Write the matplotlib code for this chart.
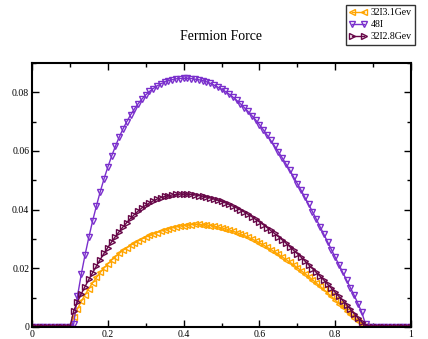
import matplotlib
matplotlib.use('Agg')
import matplotlib.pyplot as plt
from matplotlib.ticker import MultipleLocator, FuncFormatter
import numpy as np

plt.rcParams['font.family'] = ['Liberation Serif', 'DejaVu Serif']

# x grid of the force data
tau = np.round(np.arange(0, 1.0001, 0.01), 2)

labels = ['32I3.1Gev', '48I', '32I2.8Gev']
colors = ['#ffa500', '#7a2fcc', '#670748']
markers = ['<', 'v', '>']

f_32I_31 = [0.0]*11 + [
    0.0035, 0.0062, 0.0087, 0.0110, 0.0131, 0.0151, 0.0169, 0.0186, 0.0201, 0.0215,
    0.0228, 0.0240, 0.0251, 0.0261, 0.0270, 0.0278, 0.0286, 0.0293, 0.0300, 0.0306,
    0.0312, 0.0317, 0.0322, 0.0327, 0.0331, 0.0335, 0.0338, 0.0341, 0.0344, 0.0346,
    0.0348, 0.0349, 0.0350, 0.0350, 0.0349, 0.0348, 0.0346, 0.0344, 0.0341, 0.0338,
    0.0335, 0.0331, 0.0327, 0.0322, 0.0317, 0.0312, 0.0306, 0.0300, 0.0294, 0.0287,
    0.0280, 0.0272, 0.0264, 0.0256, 0.0248, 0.0239, 0.0230, 0.0221, 0.0212, 0.0202,
    0.0192, 0.0182, 0.0172, 0.0161, 0.0150, 0.0139, 0.0128, 0.0116, 0.0104, 0.0092,
    0.0080, 0.0068, 0.0056, 0.0044, 0.0032, 0.0021, 0.0011, 0.0003] + [0.0]*12

f_48I = [0.0]*11 + [
    0.0010, 0.0105, 0.0180, 0.0246, 0.0306, 0.0362, 0.0413, 0.0461, 0.0505, 0.0545,
    0.0582, 0.0616, 0.0647, 0.0675, 0.0700, 0.0723, 0.0743, 0.0761, 0.0777, 0.0791,
    0.0803, 0.0813, 0.0822, 0.0829, 0.0835, 0.0840, 0.0843, 0.0846, 0.0847, 0.0848,
    0.0848, 0.0847, 0.0845, 0.0843, 0.0840, 0.0836, 0.0831, 0.0825, 0.0818, 0.0811,
    0.0803, 0.0794, 0.0784, 0.0773, 0.0761, 0.0748, 0.0735, 0.0721, 0.0706, 0.0690,
    0.0673, 0.0655, 0.0636, 0.0617, 0.0597, 0.0577, 0.0556, 0.0535, 0.0512, 0.0489,
    0.0466, 0.0442, 0.0418, 0.0393, 0.0368, 0.0342, 0.0316, 0.0290, 0.0264, 0.0238,
    0.0212, 0.0186, 0.0160, 0.0134, 0.0108, 0.0080, 0.0050, 0.0010] + [0.0]*12

f_32I_28 = [0.0]*11 + [
    0.0055, 0.0086, 0.0113, 0.0138, 0.0162, 0.0185, 0.0208, 0.0230, 0.0251, 0.0271,
    0.0290, 0.0308, 0.0325, 0.0341, 0.0356, 0.0370, 0.0383, 0.0395, 0.0406, 0.0415,
    0.0423, 0.0430, 0.0436, 0.0441, 0.0445, 0.0448, 0.0450, 0.0452, 0.0453, 0.0453,
    0.0453, 0.0452, 0.0450, 0.0448, 0.0446, 0.0443, 0.0440, 0.0436, 0.0432, 0.0428,
    0.0423, 0.0418, 0.0412, 0.0406, 0.0399, 0.0392, 0.0384, 0.0376, 0.0367, 0.0358,
    0.0349, 0.0339, 0.0329, 0.0319, 0.0308, 0.0297, 0.0286, 0.0274, 0.0262, 0.0250,
    0.0238, 0.0225, 0.0212, 0.0199, 0.0186, 0.0173, 0.0160, 0.0146, 0.0132, 0.0118,
    0.0104, 0.0090, 0.0076, 0.0061, 0.0046, 0.0031, 0.0017, 0.0004] + [0.0]*12

series = [f_32I_31, f_48I, f_32I_28]

fig = plt.figure(figsize=(4.28, 3.39), dpi=100)
ax = fig.add_axes([32/428., 1-327/339., (411-32)/428., (327-63)/339.])

for ys, lab, col, mk in zip(series, labels, colors, markers):
    ax.plot(tau, ys, color=col, lw=1.0, marker=mk, markersize=4.5,
            markerfacecolor='none', markeredgecolor=col, markeredgewidth=1.0,
            label=lab)

ax.set_xlim(0, 1)
ax.set_ylim(0, 0.09)
ax.xaxis.set_major_locator(MultipleLocator(0.2))
ax.xaxis.set_minor_locator(MultipleLocator(0.1))
ax.yaxis.set_major_locator(MultipleLocator(0.02))
ax.yaxis.set_minor_locator(MultipleLocator(0.01))
fmt = FuncFormatter(lambda v, p: '%g' % round(v, 6))
ax.xaxis.set_major_formatter(fmt)
ax.yaxis.set_major_formatter(fmt)
ax.tick_params(which='both', direction='in', top=True, right=True, labelsize=7, pad=2)
ax.tick_params(which='major', length=5, width=1)
ax.tick_params(which='minor', length=3, width=1)
for s in ax.spines.values():
    s.set_linewidth(1.5)

fig.text(221/428., 1-37/339., 'Fermion Force', ha='center', va='center', fontsize=10)

leg = ax.legend(loc='upper right', bbox_to_anchor=(415/428., 1-5/339.),
                bbox_transform=fig.transFigure, numpoints=2, fontsize=7,
                frameon=True, fancybox=False, handlelength=1.8, handletextpad=0.4,
                borderpad=0.35, labelspacing=0.3, borderaxespad=0)
leg.get_frame().set_edgecolor('black')
leg.get_frame().set_linewidth(1.0)

fig.savefig('out.png', dpi=100)
